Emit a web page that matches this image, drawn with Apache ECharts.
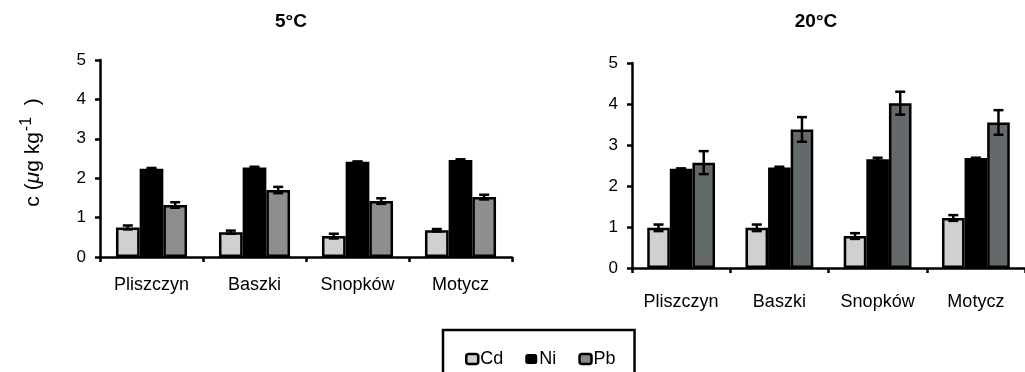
<!DOCTYPE html>
<html>
<head>
<meta charset="utf-8">
<script src="https://cdn.jsdelivr.net/npm/echarts@6/dist/echarts.min.js"></script>
<style>
  html, body { margin: 0; padding: 0; background: #fff; }
  #chart { width: 1025px; height: 372px; }
</style>
</head>
<body>
<div id="chart"></div>
<script>
// ---- data ----
const categories = ['Pliszczyn', 'Baszki', 'Snopków', 'Motycz'];
const yTicks = [0, 1, 2, 3, 4, 5];
const titles = ['5°C', '20°C'];

// 5 °C
const cd5 = [0.75, 0.63, 0.53, 0.68];
const cd5Err = [0.05, 0.04, 0.06, 0.03];
const ni5 = [2.24, 2.27, 2.42, 2.46];
const ni5Err = [0.02, 0.02, 0.00, 0.02];
const pb5 = [1.32, 1.70, 1.42, 1.52];
const pb5Err = [0.07, 0.08, 0.07, 0.06];

// 20 °C
const cd20 = [0.98, 0.98, 0.78, 1.22];
const cd20Err = [0.08, 0.08, 0.07, 0.07];
const ni20 = [2.42, 2.45, 2.65, 2.68];
const ni20Err = [0.01, 0.02, 0.04, 0.01];
const pb20 = [2.57, 3.38, 4.02, 3.55];
const pb20Err = [0.28, 0.30, 0.28, 0.30];

// ---- styling ----
const FONT = '"Liberation Sans", Arial, sans-serif';
const GAP = 0.31;
const colCd = '#d0d0d0';
const colNi = '#000000';
const colPb5 = '#8e8e8e';
const colPb20 = '#646a6b';

function barSeries(name, values, color, gi) {
  return {
    name: name, type: 'bar', xAxisIndex: gi, yAxisIndex: gi,
    data: values, barGap: '0%', barCategoryGap: (GAP * 100) + '%',
    itemStyle: { color: color, borderColor: '#000', borderWidth: 2.5 },
    emphasis: { disabled: true }, z: 2
  };
}
function errSeries(values, errs, k, gi) {
  return {
    type: 'custom', xAxisIndex: gi, yAxisIndex: gi, z: 5, silent: true,
    data: values.map((v, i) => [i, v, errs[i]]),
    renderItem: function (params, api) {
      const ci = api.value(0), v = api.value(1), e = api.value(2);
      const band = api.size([1, 0])[0];
      const bw = band * (1 - GAP) / 3;
      const c = api.coord([ci, v]);
      const x = c[0] + (k - 1) * bw;
      const yt = api.coord([ci, v + e])[1];
      const yb = api.coord([ci, v - e])[1];
      const cap = 5;
      const st = { stroke: '#000', lineWidth: 2.5, fill: null };
      return {
        type: 'group', children: [
          { type: 'line', shape: { x1: x, y1: yt, x2: x, y2: yb }, style: st },
          { type: 'line', shape: { x1: x - cap, y1: yt, x2: x + cap, y2: yt }, style: st },
          { type: 'line', shape: { x1: x - cap, y1: yb, x2: x + cap, y2: yb }, style: st }
        ]
      };
    }
  };
}
function xAxis(gi, margin) {
  return {
    type: 'category', gridIndex: gi, data: categories,
    axisLine: { lineStyle: { color: '#000', width: 2.5 } },
    axisTick: { show: true, length: 5, lineStyle: { color: '#000', width: 2.5 } },
    axisLabel: { color: '#000', fontSize: 18, fontFamily: FONT, margin: margin }
  };
}
function yAxis(gi, extra) {
  return Object.assign({
    type: 'value', gridIndex: gi, min: yTicks[0], max: yTicks[yTicks.length - 1], interval: 1,
    axisLine: { show: true, lineStyle: { color: '#000', width: 2.5 } },
    axisTick: { show: true, length: 5, lineStyle: { color: '#000', width: 2.5 } },
    splitLine: { show: false },
    axisLabel: { color: '#000', fontSize: 17, fontFamily: FONT, margin: 14 }
  }, extra || {});
}

const chart = echarts.init(document.getElementById('chart'), null, { renderer: 'canvas' });
chart.setOption({
  animation: false,
  backgroundColor: '#fff',
  title: [
    { text: titles[0], left: 291, top: 12, textAlign: 'center', padding: 0,
      textStyle: { fontSize: 19, fontWeight: 'bold', color: '#000', fontFamily: FONT } },
    { text: titles[1], left: 816, top: 12, textAlign: 'center', padding: 0,
      textStyle: { fontSize: 19, fontWeight: 'bold', color: '#000', fontFamily: FONT } }
  ],
  legend: {
    data: [
      { name: 'Cd', itemStyle: { color: colCd, borderColor: '#000', borderWidth: 2.5 } },
      { name: 'Ni', itemStyle: { color: colNi, borderColor: '#000', borderWidth: 0 } },
      { name: 'Pb', itemStyle: { color: '#888888', borderColor: '#000', borderWidth: 2.5 } }
    ],
    left: 443, top: 330, orient: 'horizontal',
    itemWidth: 12, itemHeight: 10, itemGap: 22,
    padding: [20, 19, 30, 22],
    borderColor: '#000', borderWidth: 2.5, selectedMode: false,
    textStyle: { fontSize: 18, color: '#000', fontFamily: FONT, padding: [0, 0, 0, -3] }
  },
  grid: [
    { left: 100, top: 60, width: 412, height: 197 },
    { left: 632, top: 63, width: 404, height: 205 }
  ],
  xAxis: [xAxis(0, 19), xAxis(1, 25)],
  yAxis: [
    yAxis(0, {
      name: '{a|c (}{mu|μ}{a|g kg}{sup|-1}{a|  )}',
      nameLocation: 'middle', nameRotate: 90, nameGap: 52,
      nameTextStyle: {
        color: '#000', fontFamily: FONT, fontSize: 21, padding: [0, 0, 0, 12],
        rich: {
          a: { fontSize: 21, fontFamily: FONT, color: '#000' },
          mu: { fontSize: 21, fontFamily: FONT, fontStyle: 'italic', color: '#000' },
          sup: { fontSize: 16, fontFamily: FONT, color: '#000', verticalAlign: 'top', padding: [0, 0, 13, 1] }
        }
      }
    }),
    yAxis(1)
  ],
  series: [
    barSeries('Cd', cd5, colCd, 0),
    barSeries('Ni', ni5, colNi, 0),
    barSeries('Pb', pb5, colPb5, 0),
    barSeries('Cd', cd20, colCd, 1),
    barSeries('Ni', ni20, colNi, 1),
    barSeries('Pb', pb20, colPb20, 1),
    errSeries(cd5, cd5Err, 0, 0),
    errSeries(ni5, ni5Err, 1, 0),
    errSeries(pb5, pb5Err, 2, 0),
    errSeries(cd20, cd20Err, 0, 1),
    errSeries(ni20, ni20Err, 1, 1),
    errSeries(pb20, pb20Err, 2, 1)
  ]
});
</script>
</body>
</html>
